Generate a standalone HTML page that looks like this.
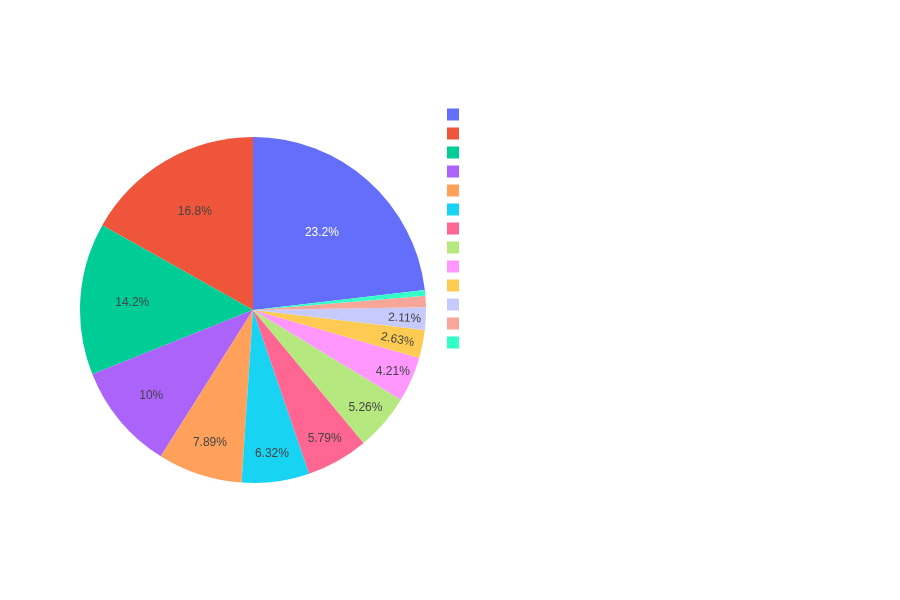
<!DOCTYPE html>
<html><head><meta charset="utf-8"><title>Pie chart</title>
<style>
html,body{margin:0;padding:0;background:#fff;}
body{width:900px;height:600px;overflow:hidden;font-family:"Liberation Sans",sans-serif;}
svg{display:block;}
svg text{font-family:"Liberation Sans",sans-serif;font-size:12px;white-space:pre;}
</style></head><body>
<svg width="900" height="600" viewBox="0 0 900 600">
<rect x="0" y="0" width="900" height="600" fill="#fff"/>
<g class="pielayer">
<g class="slice"><path d="M253,310l0,-173a173,173 0 0 1 171.8425030791794,153.0211578042616Z" style="fill:#636EFA;fill-opacity:1;stroke-width:0;stroke:rgb(68,68,68);stroke-opacity:1;"/>
<text transform="translate(321.9355201150164,236.40347819357925)" text-anchor="middle" x="0" y="0" style="fill:#fff;fill-opacity:1;">23.2%</text>
</g>
<g class="slice"><path d="M253,310l-150.76677414751896,-84.8432661626779a173,173 0 0 1 150.76677414751896,-88.1567338373221Z" style="fill:#EF553B;fill-opacity:1;stroke-width:0;stroke:rgb(68,68,68);stroke-opacity:1;"/>
<text transform="translate(194.8059674859445,214.75306254656118)" text-anchor="middle" x="0" y="0" style="fill:#444;fill-opacity:1;">16.8%</text>
</g>
<g class="slice"><path d="M253,310l-160.63984865871933,64.2171240628522a173,173 0 0 1 9.873074511200372,-149.0603902255301Z" style="fill:#00CC96;fill-opacity:1;stroke-width:0;stroke:rgb(68,68,68);stroke-opacity:1;"/>
<text transform="translate(132.27128838146302,306.01422292192)" text-anchor="middle" x="0" y="0" style="fill:#444;fill-opacity:1;">14.2%</text>
</g>
<g class="slice"><path d="M253,310l-92.2144890699429,146.37447866882184a173,173 0 0 1 -68.42535958877643,-82.15735460596963Z" style="fill:#AB63FA;fill-opacity:1;stroke-width:0;stroke:rgb(68,68,68);stroke-opacity:1;"/>
<text transform="translate(151.28972173046606,398.5783958365947)" text-anchor="middle" x="0" y="0" style="fill:#444;fill-opacity:1;">10%</text>
</g>
<g class="slice"><path d="M253,310l-11.433671088346058,172.621757508848a173,173 0 0 1 -80.78081798159684,-26.247278840026155Z" style="fill:#FFA15A;fill-opacity:1;stroke-width:0;stroke:rgb(68,68,68);stroke-opacity:1;"/>
<text transform="translate(209.91491755239414,446.10332759217573)" text-anchor="middle" x="0" y="0" style="fill:#444;fill-opacity:1;">7.89%</text>
</g>
<g class="slice"><path d="M253,310l56.17300817241023,163.62638281420982a173,173 0 0 1 -67.60667926075628,8.995374694638173Z" style="fill:#19D3F3;fill-opacity:1;stroke-width:0;stroke:rgb(68,68,68);stroke-opacity:1;"/>
<text transform="translate(271.8981371330238,457.2513948604053)" text-anchor="middle" x="0" y="0" style="fill:#444;fill-opacity:1;">6.32%</text>
</g>
<g class="slice"><path d="M253,310l110.71455750707376,132.9333921782366a173,173 0 0 1 -54.541549334663536,30.692990635973217Z" style="fill:#FF6692;fill-opacity:1;stroke-width:0;stroke:rgb(68,68,68);stroke-opacity:1;"/>
<text transform="translate(324.6853499538678,441.6731809562689)" text-anchor="middle" x="0" y="0" style="fill:#444;fill-opacity:1;">5.79%</text>
</g>
<g class="slice"><path d="M253,310l147.87913927729832,89.78173626415008a173,173 0 0 1 -37.16458177022456,43.15165591408652Z" style="fill:#B6E880;fill-opacity:1;stroke-width:0;stroke:rgb(68,68,68);stroke-opacity:1;"/>
<text transform="translate(365.3960920476419,410.9413199115637)" text-anchor="middle" x="0" y="0" style="fill:#444;fill-opacity:1;">5.26%</text>
</g>
<g class="slice"><path d="M253,310l166.2103859716748,47.99070321579884a173,173 0 0 1 -18.33124669437649,41.791033048351245Z" style="fill:#FF97FF;fill-opacity:1;stroke-width:0;stroke:rgb(68,68,68);stroke-opacity:1;"/>
<text transform="translate(392.80598080401256,375.39569671426057)" text-anchor="middle" x="0" y="0" style="fill:#444;fill-opacity:1;">4.21%</text>
</g>
<g class="slice"><path d="M253,310l171.84250307917947,19.97884219573802a173,173 0 0 1 -5.632117107504655,28.011861020060817Z" style="fill:#FECB52;fill-opacity:1;stroke-width:0;stroke:rgb(68,68,68);stroke-opacity:1;"/>
<text transform="translate(396.89043283482744,343.0109299716559)rotate(11.368421052631447)" text-anchor="middle" x="0" y="0" style="fill:#444;fill-opacity:1;">2.63%</text>
</g>
<g class="slice"><path d="M253,310l172.97635176369712,-2.8603724445804506a173,173 0 0 1 -1.133848684517659,22.839214640318474Z" style="fill:rgb(198,202,253);fill-opacity:1;stroke-width:0;stroke:rgb(68,68,68);stroke-opacity:1;"/>
<text transform="translate(404.45771643297206,321.52401715161056)rotate(2.842105263157748)" text-anchor="middle" x="0" y="0" style="fill:#444;fill-opacity:1;">2.11%</text>
</g>
<g class="slice"><path d="M253,310l172.40911729015386,-14.28622676671396a173,173 0 0 1 0.567234473543266,11.42585432213351Z" style="fill:rgb(247,167,153);fill-opacity:1;stroke-width:0;stroke:rgb(68,68,68);stroke-opacity:1;"/>
</g>
<g class="slice"><path d="M253,310l171.84250307917935,-19.978842195738874a173,173 0 0 1 0.5666142109745067,5.692615429024913Z" style="fill:rgb(51,255,201);fill-opacity:1;stroke-width:0;stroke:rgb(68,68,68);stroke-opacity:1;"/>
</g>
</g>
<g class="legend" transform="translate(433,100)">
<g transform="translate(0,14.5)"><path d="M6,6H-6V-6H6Z" transform="translate(20,0)" style="fill:#636EFA;fill-opacity:1;stroke-width:0;stroke:rgb(68,68,68);"/></g>
<g transform="translate(0,33.5)"><path d="M6,6H-6V-6H6Z" transform="translate(20,0)" style="fill:#EF553B;fill-opacity:1;stroke-width:0;stroke:rgb(68,68,68);"/></g>
<g transform="translate(0,52.5)"><path d="M6,6H-6V-6H6Z" transform="translate(20,0)" style="fill:#00CC96;fill-opacity:1;stroke-width:0;stroke:rgb(68,68,68);"/></g>
<g transform="translate(0,71.5)"><path d="M6,6H-6V-6H6Z" transform="translate(20,0)" style="fill:#AB63FA;fill-opacity:1;stroke-width:0;stroke:rgb(68,68,68);"/></g>
<g transform="translate(0,90.5)"><path d="M6,6H-6V-6H6Z" transform="translate(20,0)" style="fill:#FFA15A;fill-opacity:1;stroke-width:0;stroke:rgb(68,68,68);"/></g>
<g transform="translate(0,109.5)"><path d="M6,6H-6V-6H6Z" transform="translate(20,0)" style="fill:#19D3F3;fill-opacity:1;stroke-width:0;stroke:rgb(68,68,68);"/></g>
<g transform="translate(0,128.5)"><path d="M6,6H-6V-6H6Z" transform="translate(20,0)" style="fill:#FF6692;fill-opacity:1;stroke-width:0;stroke:rgb(68,68,68);"/></g>
<g transform="translate(0,147.5)"><path d="M6,6H-6V-6H6Z" transform="translate(20,0)" style="fill:#B6E880;fill-opacity:1;stroke-width:0;stroke:rgb(68,68,68);"/></g>
<g transform="translate(0,166.5)"><path d="M6,6H-6V-6H6Z" transform="translate(20,0)" style="fill:#FF97FF;fill-opacity:1;stroke-width:0;stroke:rgb(68,68,68);"/></g>
<g transform="translate(0,185.5)"><path d="M6,6H-6V-6H6Z" transform="translate(20,0)" style="fill:#FECB52;fill-opacity:1;stroke-width:0;stroke:rgb(68,68,68);"/></g>
<g transform="translate(0,204.5)"><path d="M6,6H-6V-6H6Z" transform="translate(20,0)" style="fill:rgb(198,202,253);fill-opacity:1;stroke-width:0;stroke:rgb(68,68,68);"/></g>
<g transform="translate(0,223.5)"><path d="M6,6H-6V-6H6Z" transform="translate(20,0)" style="fill:rgb(247,167,153);fill-opacity:1;stroke-width:0;stroke:rgb(68,68,68);"/></g>
<g transform="translate(0,242.5)"><path d="M6,6H-6V-6H6Z" transform="translate(20,0)" style="fill:rgb(51,255,201);fill-opacity:1;stroke-width:0;stroke:rgb(68,68,68);"/></g>
</g></svg></body></html>
